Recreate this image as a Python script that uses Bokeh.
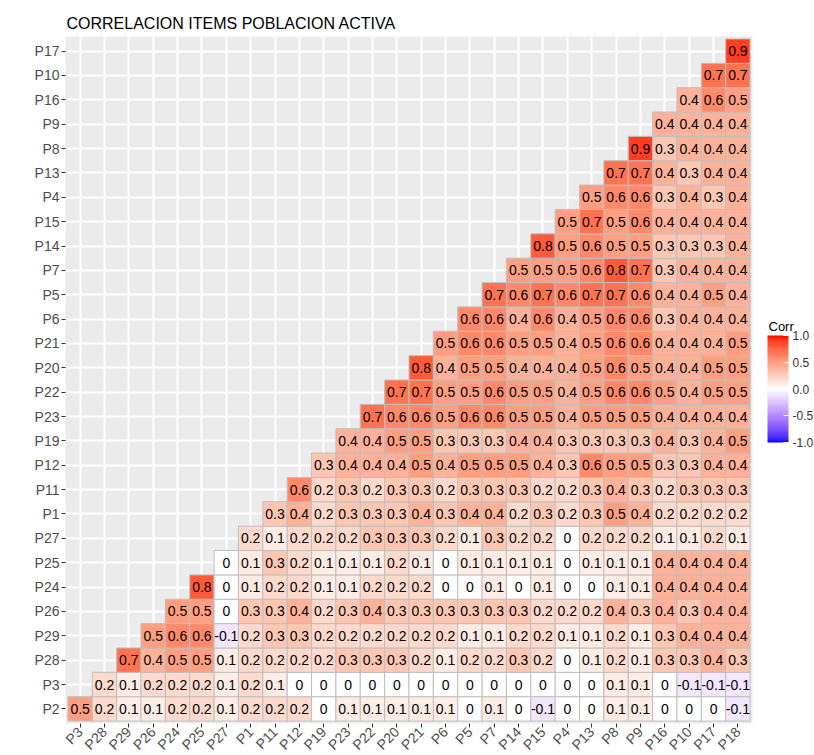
import numpy as np
from bokeh.plotting import figure
from bokeh.layouts import row
from bokeh.models import (ColumnDataSource, LinearColorMapper, ColorBar, FixedTicker,
                          PrintfTickFormatter, FactorRange, Range1d)
from bokeh.transform import transform
from bokeh.core.properties import value
from bokeh.embed import file_html
from bokeh.resources import INLINE

# ---- data (lower triangle of the correlation matrix, rounded to 1 digit) ----
items = ["P2", "P3", "P28", "P29", "P26", "P24", "P25", "P27", "P1", "P11", "P12",
         "P19", "P23", "P22", "P20", "P21", "P6", "P5", "P7", "P14", "P15", "P4",
         "P13", "P8", "P9", "P16", "P10", "P17", "P18"]
x_labels = items[1:]
y_labels = items[:-1]

row_P2 = [0.5, 0.2, 0.1, 0.1, 0.2, 0.2, 0.1, 0.2, 0.2, 0.2, 0, 0.1, 0.1, 0.1, 0.1,
          0.1, 0, 0.1, 0, -0.1, 0, 0, 0.1, 0.1, 0, 0, 0, -0.1]
row_P3 = [0.2, 0.1, 0.2, 0.2, 0.2, 0.1, 0.2, 0.1, 0, 0, 0, 0, 0, 0, 0, 0, 0, 0, 0,
          0, 0, 0.1, 0.1, 0, -0.1, -0.1, -0.1]
row_P28 = [0.7, 0.4, 0.5, 0.5, 0.1, 0.2, 0.2, 0.2, 0.2, 0.3, 0.3, 0.3, 0.2, 0.1, 0.2,
           0.2, 0.3, 0.2, 0, 0.1, 0.2, 0.1, 0.3, 0.3, 0.4, 0.3]
row_P29 = [0.5, 0.6, 0.6, -0.1, 0.2, 0.3, 0.3, 0.2, 0.2, 0.2, 0.2, 0.2, 0.2, 0.1, 0.1,
           0.2, 0.2, 0.1, 0.1, 0.2, 0.1, 0.3, 0.4, 0.4, 0.4]
row_P26 = [0.5, 0.5, 0, 0.3, 0.3, 0.4, 0.2, 0.3, 0.4, 0.3, 0.3, 0.3, 0.3, 0.3, 0.3,
           0.2, 0.2, 0.2, 0.4, 0.3, 0.4, 0.3, 0.4, 0.4]
row_P24 = [0.8, 0, 0.1, 0.2, 0.2, 0.1, 0.1, 0.2, 0.2, 0.2, 0, 0, 0.1, 0, 0.1, 0, 0,
           0.1, 0.1, 0.4, 0.4, 0.4, 0.4]
row_P25 = [0, 0.1, 0.3, 0.2, 0.1, 0.1, 0.1, 0.2, 0.1, 0, 0.1, 0.1, 0.1, 0.1, 0, 0.1,
           0.1, 0.1, 0.4, 0.4, 0.4, 0.4]
row_P27 = [0.2, 0.1, 0.2, 0.2, 0.2, 0.3, 0.3, 0.3, 0.2, 0.1, 0.3, 0.2, 0.2, 0, 0.2,
           0.2, 0.2, 0.1, 0.1, 0.2, 0.1]
row_P1 = [0.3, 0.4, 0.2, 0.3, 0.3, 0.3, 0.4, 0.3, 0.4, 0.4, 0.2, 0.3, 0.2, 0.3, 0.5,
          0.4, 0.2, 0.2, 0.2, 0.2]
row_P11 = [0.6, 0.2, 0.3, 0.2, 0.3, 0.3, 0.2, 0.3, 0.3, 0.3, 0.2, 0.2, 0.3, 0.4, 0.3,
           0.2, 0.3, 0.3, 0.3]
row_P12 = [0.3, 0.4, 0.4, 0.4, 0.5, 0.4, 0.5, 0.5, 0.5, 0.4, 0.3, 0.6, 0.5, 0.5, 0.3,
           0.3, 0.4, 0.4]
row_P19 = [0.4, 0.4, 0.5, 0.5, 0.3, 0.3, 0.3, 0.4, 0.4, 0.3, 0.3, 0.3, 0.3, 0.4, 0.3,
           0.4, 0.5]
row_P23 = [0.7, 0.6, 0.6, 0.5, 0.6, 0.6, 0.5, 0.5, 0.4, 0.5, 0.5, 0.5, 0.4, 0.4, 0.4,
           0.4]
row_P22 = [0.7, 0.7, 0.5, 0.5, 0.6, 0.5, 0.5, 0.4, 0.5, 0.6, 0.6, 0.5, 0.4, 0.5, 0.5]
row_P20 = [0.8, 0.4, 0.5, 0.5, 0.4, 0.4, 0.4, 0.5, 0.6, 0.5, 0.4, 0.4, 0.5, 0.5]
row_P21 = [0.5, 0.6, 0.6, 0.5, 0.5, 0.4, 0.5, 0.6, 0.6, 0.4, 0.4, 0.4, 0.5]
row_P6 = [0.6, 0.6, 0.4, 0.6, 0.4, 0.5, 0.6, 0.6, 0.3, 0.4, 0.4, 0.4]
row_P5 = [0.7, 0.6, 0.7, 0.6, 0.7, 0.7, 0.6, 0.4, 0.4, 0.5, 0.4]
row_P7 = [0.5, 0.5, 0.5, 0.6, 0.8, 0.7, 0.3, 0.4, 0.4, 0.4]
row_P14 = [0.8, 0.5, 0.6, 0.5, 0.5, 0.3, 0.3, 0.3, 0.4]
row_P15 = [0.5, 0.7, 0.5, 0.6, 0.4, 0.4, 0.4, 0.4]
row_P4 = [0.5, 0.6, 0.6, 0.3, 0.4, 0.3, 0.4]
row_P13 = [0.7, 0.7, 0.4, 0.3, 0.4, 0.4]
row_P8 = [0.9, 0.3, 0.4, 0.4, 0.4]
row_P9 = [0.4, 0.4, 0.4, 0.4]
row_P16 = [0.4, 0.6, 0.5]
row_P10 = [0.7, 0.7]
row_P17 = [0.9]

rows = [row_P2, row_P3, row_P28, row_P29, row_P26, row_P24, row_P25, row_P27, row_P1,
        row_P11, row_P12, row_P19, row_P23, row_P22, row_P20, row_P21, row_P6, row_P5,
        row_P7, row_P14, row_P15, row_P4, row_P13, row_P8, row_P9, row_P16, row_P10,
        row_P17]

title_text = "CORRELACION ITEMS POBLACION ACTIVA"
legend_title = "Corr"
legend_ticks = [-1.0, -0.5, 0.0, 0.5, 1.0]

# ---- build long table ----
xs, ys, vs, labs = [], [], [], []
for i, r in enumerate(rows):
    for k, v in enumerate(r):
        xs.append(items[i + 1 + k])
        ys.append(items[i])
        vs.append(v)
        labs.append("0" if v == 0 else f"{v:.1f}")
src = ColumnDataSource(dict(x=xs, y=ys, v=vs, lab=labs))


# ---- blue-white-red palette interpolated in CIE Lab (as ggplot's gradient2) ----
def _srgb_to_lab(rgb):
    c = np.asarray(rgb, float) / 255.0
    lin = np.where(c <= 0.04045, c / 12.92, ((c + 0.055) / 1.055) ** 2.4)
    M = np.array([[0.4124564, 0.3575761, 0.1804375],
                  [0.2126729, 0.7151522, 0.0721750],
                  [0.0193339, 0.1191920, 0.9503041]])
    xyz = M @ lin / np.array([0.95047, 1.0, 1.08883])
    d = 6 / 29
    f = np.where(xyz > d ** 3, np.cbrt(xyz), xyz / (3 * d * d) + 4 / 29)
    return np.array([116 * f[1] - 16, 500 * (f[0] - f[1]), 200 * (f[1] - f[2])])


def _lab_to_hex(lab):
    L, a, b = lab
    fy = (L + 16) / 116
    fx = fy + a / 500
    fz = fy - b / 200
    d = 6 / 29
    f = np.array([fx, fy, fz])
    xyz = np.where(f > d, f ** 3, 3 * d * d * (f - 4 / 29)) * np.array([0.95047, 1.0, 1.08883])
    Minv = np.array([[3.2404542, -1.5371385, -0.4985314],
                     [-0.9692660, 1.8760108, 0.0415560],
                     [0.0556434, -0.2040259, 1.0572252]])
    lin = np.clip(Minv @ xyz, 0, 1)
    c = np.where(lin <= 0.0031308, 12.92 * lin, 1.055 * lin ** (1 / 2.4) - 0.055)
    c = np.clip(np.round(c * 255), 0, 255).astype(int)
    return "#%02x%02x%02x" % tuple(c)


lab_low = _srgb_to_lab((0, 0, 255))
lab_mid = _srgb_to_lab((255, 255, 255))
lab_high = _srgb_to_lab((255, 0, 0))
palette = []
for t in np.linspace(-1, 1, 201):
    if t < 0:
        w = t + 1
        palette.append(_lab_to_hex(lab_low + (lab_mid - lab_low) * w))
    else:
        palette.append(_lab_to_hex(lab_mid + (lab_high - lab_mid) * t))
mapper = LinearColorMapper(palette=palette, low=-1, high=1)

# ---- main heatmap ----
FONT = "Liberation Sans"
FRAME_H = 687
p = figure(x_range=FactorRange(factors=x_labels, range_padding=0.1, range_padding_units="absolute"),
           y_range=FactorRange(factors=y_labels, range_padding=0.1, range_padding_units="absolute"),
           frame_width=687, frame_height=FRAME_H,
           min_border_left=65, min_border_top=36, min_border_right=8, min_border_bottom=32,
           output_backend="svg", toolbar_location=None, title=title_text)

p.title.text_font = FONT
p.title.text_font_size = "16px"
p.title.text_font_style = "normal"
p.title.text_color = "black"
p.title.align = "left"
p.title.offset = 1
p.title.standoff = 10

p.background_fill_color = "#EBEBEB"
p.border_fill_color = "white"
p.outline_line_color = None

for g in (p.xgrid, p.ygrid):
    g.grid_line_color = "white"
    g.grid_line_width = 2

for ax in (p.xaxis, p.yaxis):
    ax.axis_line_color = None
    ax.major_tick_line_color = "#333333"
    ax.major_tick_out = 4
    ax.major_tick_in = 0
    ax.minor_tick_line_color = None
    ax.major_label_text_font = FONT
    ax.major_label_text_font_size = "14px"
    ax.major_label_text_color = "#4D4D4D"
    ax.major_label_standoff = 2
p.xaxis.major_label_orientation = np.pi / 4

p.rect(x="x", y="y", width=1, height=1, source=src,
       fill_color=transform("v", mapper), line_color="#BEBEBE", line_width=1)
p.text(x="x", y="y", text="lab", source=src, text_align="center", text_baseline="middle",
       text_font=value(FONT), text_font_size="14px", text_color="black")

# ---- legend column (same vertical frame as the heatmap; pixel-unit ranges) ----
LEG_W = 54
leg = figure(frame_width=LEG_W, frame_height=FRAME_H,
             x_range=Range1d(0, LEG_W), y_range=Range1d(0, FRAME_H),
             min_border_left=0, min_border_right=0, min_border_top=36, min_border_bottom=32,
             x_axis_location=None, y_axis_location=None,
             output_backend="svg", toolbar_location=None)
leg.grid.visible = False
leg.outline_line_color = None
leg.background_fill_color = "white"
leg.border_fill_color = "white"

bar_bottom = 281   # px above the frame bottom
bar_h = 107
leg.text(x=[8], y=[bar_bottom + bar_h + 9], text=[legend_title], text_align="left",
         text_baseline="alphabetic", text_font=value(FONT), text_font_size="13px",
         text_color="black")

cb = ColorBar(color_mapper=mapper, ticker=FixedTicker(ticks=legend_ticks),
              formatter=PrintfTickFormatter(format="%.1f"),
              width=21, height=bar_h, padding=0, margin=0, location=(7, bar_bottom),
              major_label_text_font=FONT, major_label_text_font_size="12px",
              major_label_text_color="#333333", label_standoff=4,
              major_tick_line_color="white", major_tick_in=5, major_tick_out=0,
              minor_tick_line_color=None, bar_line_color=None,
              background_fill_color=None, border_line_color=None)
leg.add_layout(cb, "center")

layout = row(p, leg, spacing=0)
open("out.html", "w").write(file_html(layout, INLINE))
